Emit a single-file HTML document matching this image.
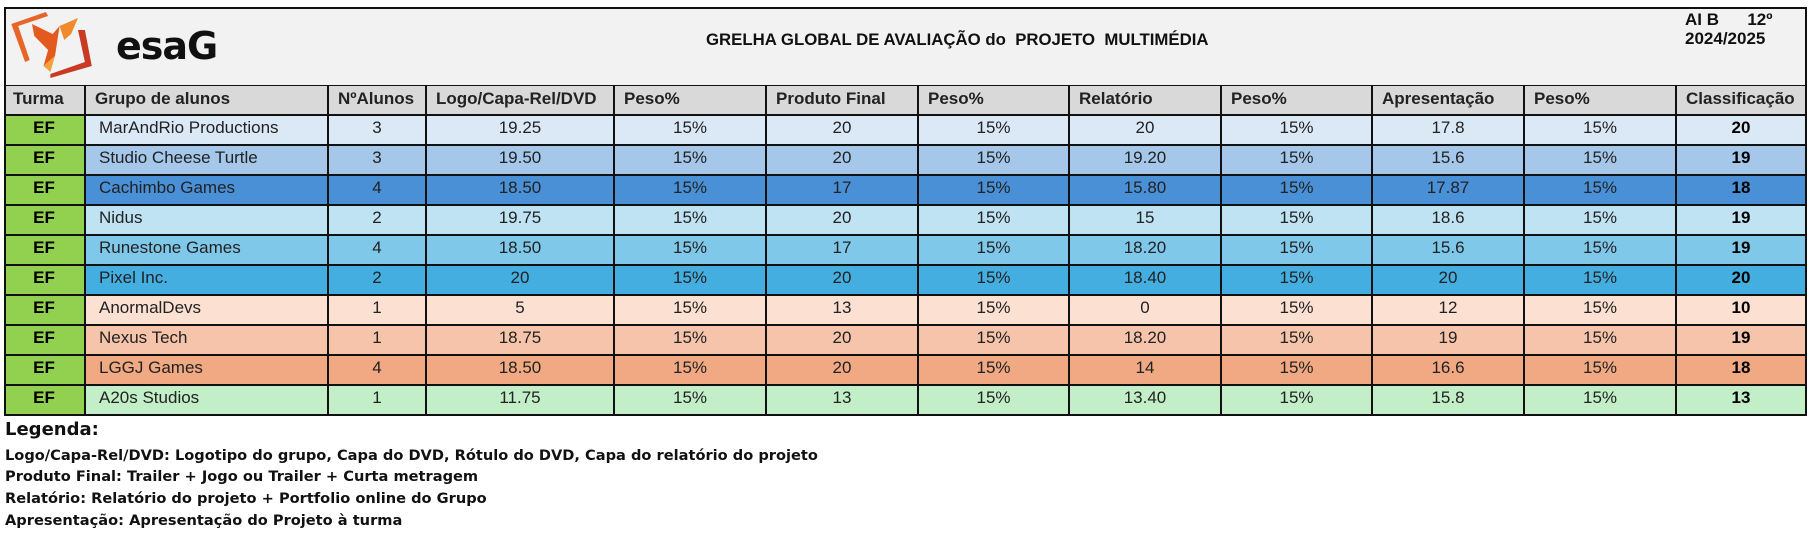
<!DOCTYPE html>
<html><head><meta charset="utf-8"><style>
body{margin:0;width:1815px;height:533px;background:#fff;position:relative;overflow:hidden;font-family:"Liberation Sans",Arial,sans-serif;}
.c{position:absolute;box-sizing:border-box;border-right:2px solid #111;border-bottom:2px solid #111;font-size:17px;color:#222;white-space:nowrap;overflow:hidden;line-height:22px;}
.h{background:#d9d9d9;font-weight:bold;padding-left:9px;}
.ctr{text-align:center;}
.l{padding-left:13px;}
.b{font-weight:bold;color:#000;}
.leg{position:absolute;left:5px;font-family:"DejaVu Sans",sans-serif;font-weight:bold;font-size:14.6px;color:#111;white-space:nowrap;}
</style></head><body>
<div class="c" style="left:4px;top:7px;width:1673px;height:80px;background:#f2f2f2;"></div>
<div class="c" style="left:1675px;top:7px;width:132px;height:80px;background:#f2f2f2;font-weight:bold;font-size:17px;line-height:19px;padding:3px 0 0 10px;color:#111;">AI B&nbsp;&nbsp;&nbsp;&nbsp;&nbsp;&nbsp;12º<br>2024/2025</div>
<svg style="position:absolute;left:9px;top:6px" width="92" height="72" viewBox="0 0 80 72" preserveAspectRatio="none">
<polygon points="2,18 32,6 34,10 8,20 18,54 14,56" fill="#e8652a"/>
<polygon points="20,18 38,28 44,20 40,50 30,60 34,44 22,30" fill="#e35a1f"/>
<polygon points="44,20 60,12 54,28 48,34" fill="#f08a2a"/>
<polygon points="60,24 66,24 72,60 36,72 36,68 66,56" fill="#c83a24"/>
<polygon points="30,60 40,50 36,66" fill="#f2a23a"/>
</svg>
<div style="position:absolute;left:116px;top:24px;font-family:'DejaVu Sans',sans-serif;font-weight:bold;font-size:38px;color:#111;letter-spacing:-1px;">esaG</div>
<div style="position:absolute;left:706px;top:30px;font-weight:bold;font-size:16.8px;color:#111;white-space:pre;">GRELHA GLOBAL DE AVALIAÇÃO do  PROJETO  MULTIMÉDIA</div>
<div id="t"></div>
<div style="position:absolute;left:4px;top:7px;width:1803px;height:409px;border-left:2px solid #111;border-top:2px solid #111;box-sizing:border-box;"></div>
<div class="leg" style="top:419px;font-size:18px;">Legenda:</div>
<div class="leg" style="top:447px;">Logo/Capa-Rel/DVD: Logotipo do grupo, Capa do DVD, Rótulo do DVD, Capa do relatório do projeto</div>
<div class="leg" style="top:468px;">Produto Final: Trailer + Jogo ou Trailer + Curta metragem</div>
<div class="leg" style="top:490px;">Relatório: Relatório do projeto + Portfolio online do Grupo</div>
<div class="leg" style="top:512px;">Apresentação: Apresentação do Projeto à turma</div>
<script>
var X=[4,86,329,427,615,767,919,1070,1222,1373,1525,1677,1807];
var H=["Turma","Grupo de alunos","NºAlunos","Logo/Capa-Rel/DVD","Peso%","Produto Final","Peso%","Relatório","Peso%","Apresentação","Peso%","Classificação"];
var R=[["MarAndRio Productions",3,"19.25",20,20,"17.8",20,"#dbe9f7"],
["Studio Cheese Turtle",3,"19.50",20,"19.20","15.6",19,"#a4c7ea"],
["Cachimbo Games",4,"18.50",17,"15.80","17.87",18,"#4a90d6"],
["Nidus",2,"19.75",20,15,"18.6",19,"#bfe3f3"],
["Runestone Games",4,"18.50",17,"18.20","15.6",19,"#80c8ea"],
["Pixel Inc.",2,20,20,"18.40",20,20,"#45aee0"],
["AnormalDevs",1,5,13,0,12,10,"#fce0d2"],
["Nexus Tech",1,"18.75",20,"18.20",19,19,"#f6c4aa"],
["LGGJ Games",4,"18.50",20,14,"16.6",18,"#f0a983"],
["A20s Studios",1,"11.75",13,"13.40","15.8",13,"#c2efc7"]];
var s="";
function cell(i,y,h,cls,bg,txt,pt){s+='<div class="c '+cls+'" style="left:'+X[i]+'px;top:'+y+'px;width:'+(X[i+1]-X[i])+'px;height:'+h+'px;background:'+bg+';padding-top:'+pt+'px">'+txt+'</div>';}
for(var i=0;i<12;i++)cell(i,86,30,"h","#d9d9d9",H[i],2);
R.forEach(function(r,k){var y=116+k*30,bg=r[7];
var v=["EF",r[0],r[1],r[2],"15%",r[3],"15%",r[4],"15%",r[5],"15%",r[6]];
for(var i=0;i<12;i++){var cls=i==0?"ctr b":i==1?"l":i==11?"ctr b":"ctr";cell(i,y,30,cls,i==0?"#92d050":bg,v[i],1);}
});
document.getElementById("t").innerHTML=s;
</script>
</body></html>
